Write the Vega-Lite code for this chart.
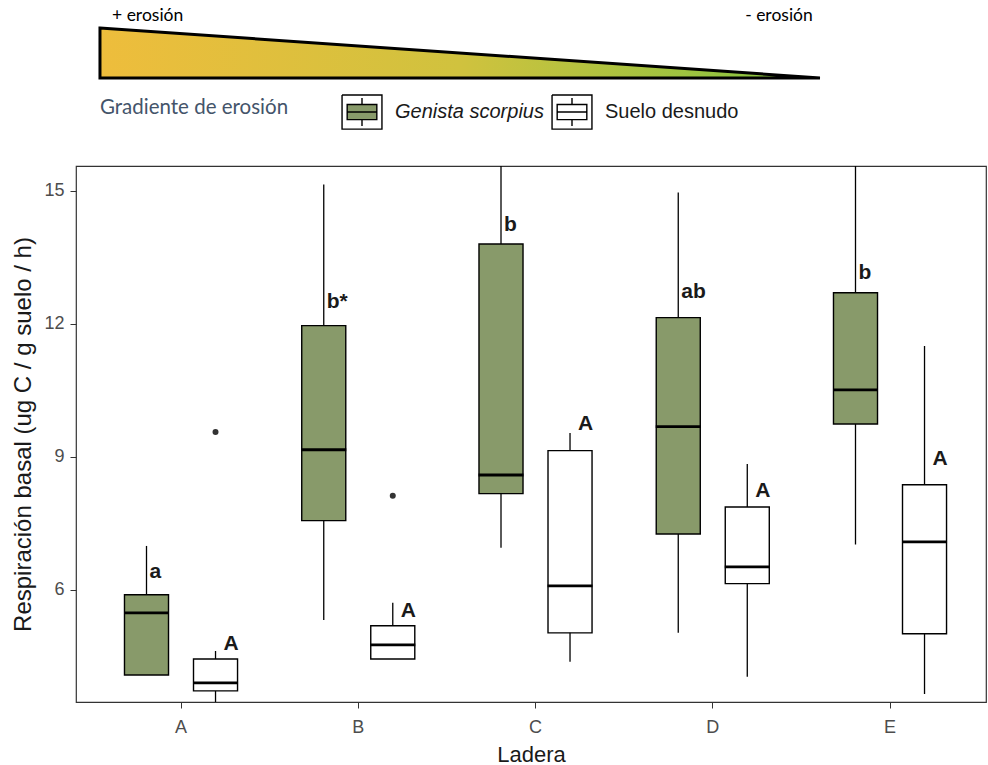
{
  "$schema": "https://vega.github.io/schema/vega-lite/v6.json",
  "background": "white",
  "padding": {"left": 11, "top": 0, "right": 0, "bottom": 0},
  "bounds": "flush",
  "spacing": 36,
  "config": {"view": {"stroke": null}, "font": "Liberation Sans"},
  "vconcat": [
    {
      "width": 910,
      "height": 130,
      "layer": [
        {
          "data": {"values": [{"pos": 0, "top": 1, "base": 0}, {"pos": 1, "top": 0, "base": 0}]},
          "mark": {
            "type": "area",
            "fill": {"gradient": "linear", "stops": [
              {"offset": 0, "color": "#eebd3c"},
              {"offset": 0.5, "color": "#d0c23e"},
              {"offset": 1, "color": "#80c341"}
            ]},
            "stroke": "black",
            "strokeWidth": 3,
            "strokeJoin": "miter"
          },
          "encoding": {
            "x": {"field": "pos", "type": "quantitative", "scale": {"domain": [-0.0333, 1.2306], "nice": false, "zero": false}, "axis": null},
            "y": {"field": "top", "type": "quantitative", "scale": {"domain": [-1.04, 1.56], "nice": false, "zero": false}, "axis": null},
            "y2": {"field": "base"}
          }
        },
        {
          "data": {"values": [{"pos": 0.0167, "h": 1.25, "txt": "+ erosión"}]},
          "mark": {"type": "text", "align": "left", "baseline": "middle", "font": "Lato", "fontSize": 17.5, "color": "black"},
          "encoding": {
            "x": {"field": "pos", "type": "quantitative"},
            "y": {"field": "h", "type": "quantitative"},
            "text": {"field": "txt"}
          }
        },
        {
          "data": {"values": [{"pos": 0.99, "h": 1.25, "txt": "- erosión"}]},
          "mark": {"type": "text", "align": "right", "baseline": "middle", "font": "Lato", "fontSize": 17.5, "color": "black"},
          "encoding": {
            "x": {"field": "pos", "type": "quantitative"},
            "y": {"field": "h", "type": "quantitative"},
            "text": {"field": "txt"}
          }
        },
        {
          "data": {"values": [{"pos": 0, "h": -0.6, "txt": "Gradiente de erosión"}]},
          "mark": {"type": "text", "align": "left", "baseline": "middle", "font": "Lato", "fontSize": 20.5, "color": "#44546a"},
          "encoding": {
            "x": {"field": "pos", "type": "quantitative"},
            "y": {"field": "h", "type": "quantitative"},
            "text": {"field": "txt"}
          }
        }
      ]
    },
    {
      "width": 910,
      "height": 536,
      "view": {"stroke": "#333333", "strokeWidth": 1.2},
      "data": {"values": [
        {"Ladera": "A", "Cobertura": "Genista scorpius", "lower": 4.08, "q1": 4.08, "median": 5.48, "q3": 5.89, "upper": 6.99, "label": "a", "label_y": 6.41},
        {"Ladera": "A", "Cobertura": "Suelo desnudo", "lower": 3.3, "q1": 3.72, "median": 3.9, "q3": 4.44, "upper": 4.62, "label": "A", "label_y": 4.78},
        {"Ladera": "B", "Cobertura": "Genista scorpius", "lower": 5.32, "q1": 7.56, "median": 9.16, "q3": 11.96, "upper": 15.14, "label": "b*", "label_y": 12.5},
        {"Ladera": "B", "Cobertura": "Suelo desnudo", "lower": 4.44, "q1": 4.44, "median": 4.76, "q3": 5.19, "upper": 5.71, "label": "A", "label_y": 5.53},
        {"Ladera": "C", "Cobertura": "Genista scorpius", "lower": 6.95, "q1": 8.17, "median": 8.59, "q3": 13.8, "upper": 16.5, "label": "b", "label_y": 14.23},
        {"Ladera": "C", "Cobertura": "Suelo desnudo", "lower": 4.38, "q1": 5.03, "median": 6.09, "q3": 9.14, "upper": 9.54, "label": "A", "label_y": 9.74},
        {"Ladera": "D", "Cobertura": "Genista scorpius", "lower": 5.03, "q1": 7.26, "median": 9.68, "q3": 12.14, "upper": 14.96, "label": "ab", "label_y": 12.72},
        {"Ladera": "D", "Cobertura": "Suelo desnudo", "lower": 4.04, "q1": 6.14, "median": 6.52, "q3": 7.87, "upper": 8.84, "label": "A", "label_y": 8.23},
        {"Ladera": "E", "Cobertura": "Genista scorpius", "lower": 7.02, "q1": 9.74, "median": 10.51, "q3": 12.7, "upper": 16.5, "label": "b", "label_y": 13.15},
        {"Ladera": "E", "Cobertura": "Suelo desnudo", "lower": 3.65, "q1": 5.01, "median": 7.08, "q3": 8.37, "upper": 11.5, "label": "A", "label_y": 8.96}
      ]},
      "encoding": {
        "x": {
          "field": "Ladera", "type": "nominal",
          "scale": {"paddingInner": 0, "paddingOuter": 0.067, "align": 0.69},
          "axis": {
            "title": "Ladera", "labelAngle": 0, "labelFontSize": 18, "labelColor": "#4d4d4d",
            "tickColor": "#333333", "tickSize": 6, "domain": false, "labelPadding": 10,
            "titleFontSize": 22, "titleFontWeight": "normal", "titleColor": "#1a1a1a", "titlePadding": 8
          }
        },
        "xOffset": {
          "field": "Cobertura", "type": "nominal",
          "scale": {"paddingInner": 0.362, "paddingOuter": 0.465}
        }
      },
      "layer": [
        {
          "mark": {"type": "rule", "color": "black", "strokeWidth": 1.3, "clip": true},
          "encoding": {
            "y": {
              "field": "lower", "type": "quantitative",
              "scale": {"domain": [3.47, 15.56], "nice": false, "zero": false},
              "axis": {
                "title": "Respiración basal (ug C / g suelo / h)", "values": [6, 9, 12, 15], "grid": false,
                "labelFontSize": 18, "labelColor": "#4d4d4d", "tickColor": "#333333", "tickSize": 6,
                "labelPadding": 6, "domain": false,
                "titleFontSize": 24, "titleFontWeight": "normal", "titleColor": "#1a1a1a", "titlePadding": 8
              }
            },
            "y2": {"field": "upper"}
          }
        },
        {
          "mark": {"type": "bar", "stroke": "black", "strokeWidth": 1.4},
          "encoding": {
            "y": {"field": "q1", "type": "quantitative"},
            "y2": {"field": "q3"},
            "fill": {
              "field": "Cobertura", "type": "nominal",
              "scale": {"domain": ["Genista scorpius", "Suelo desnudo"], "range": ["#889a6a", "#ffffff"]},
              "legend": {
                "title": null, "orient": "none", "legendX": 266, "legendY": 92,
                "direction": "horizontal", "padding": 0,
                "symbolType": "M-1.05,-0.9L1.05,-0.9L1.05,0.9L-1.05,0.9L-1.05,-0.9L-1.05,0.9L1.05,0.9L1.05,-0.9L-1.05,-0.9M-0.78,-0.4L0.78,-0.4L0.78,0.4L-0.78,0.4ZM-0.78,0L0.78,0M0,-0.4L0,-0.74M0,0.4L0,0.74",
                "symbolSize": 1444, "symbolStrokeColor": "black", "symbolStrokeWidth": 1.4,
                "labelFontSize": 20, "labelColor": "#1a1a1a", "labelOffset": 13, "columnPadding": 5,
                "encode": {"labels": {"update": {"fontStyle": [{"test": "datum.value === 'Genista scorpius'", "value": "italic"}, {"value": "normal"}]}}}
              }
            }
          }
        },
        {
          "mark": {"type": "tick", "color": "black", "size": 45, "thickness": 2.8, "opacity": 1},
          "encoding": {
            "y": {"field": "median", "type": "quantitative"}
          }
        },
        {
          "data": {"values": [
            {"Ladera": "A", "Cobertura": "Suelo desnudo", "v": 9.56},
            {"Ladera": "B", "Cobertura": "Suelo desnudo", "v": 8.12}
          ]},
          "mark": {"type": "point", "filled": true, "color": "#333333", "size": 36, "opacity": 1},
          "encoding": {
            "y": {"field": "v", "type": "quantitative"}
          }
        },
        {
          "transform": [{"filter": "datum.Cobertura === 'Genista scorpius'"}],
          "mark": {"type": "text", "align": "left", "baseline": "middle", "dx": 3, "fontSize": 21, "fontWeight": "bold", "color": "#1a1a1a"},
          "encoding": {
            "y": {"field": "label_y", "type": "quantitative"},
            "text": {"field": "label"}
          }
        },
        {
          "transform": [{"filter": "datum.Cobertura === 'Suelo desnudo'"}],
          "mark": {"type": "text", "align": "left", "baseline": "middle", "dx": 8, "fontSize": 21, "fontWeight": "bold", "color": "#1a1a1a"},
          "encoding": {
            "y": {"field": "label_y", "type": "quantitative"},
            "text": {"field": "label"}
          }
        }
      ]
    }
  ]
}
